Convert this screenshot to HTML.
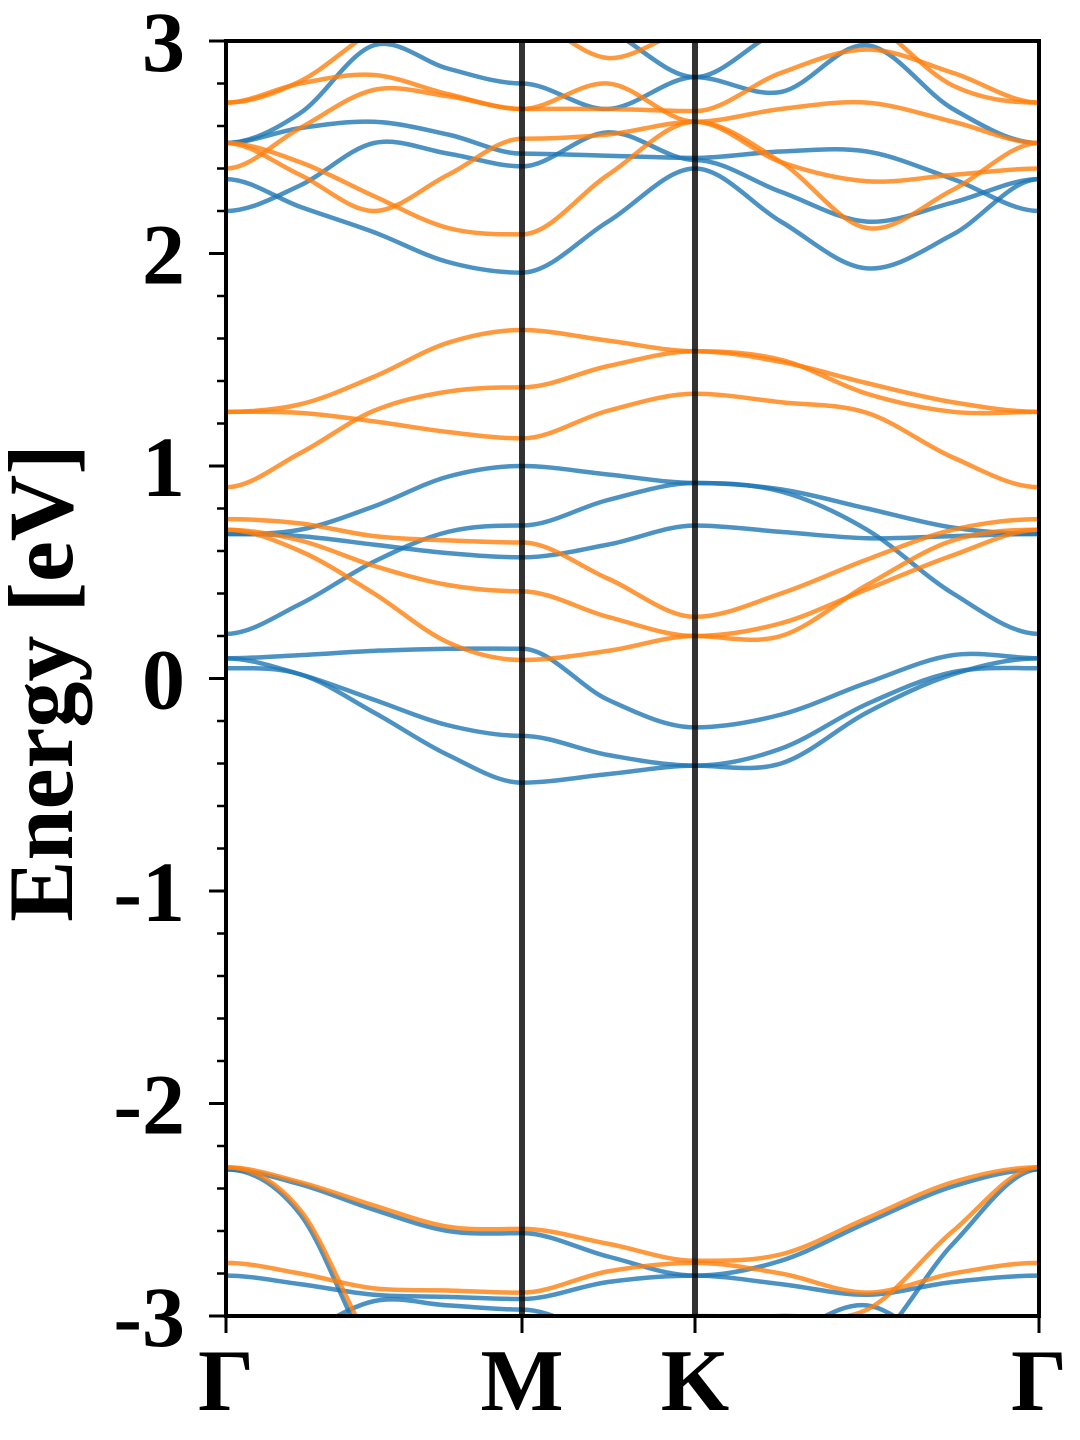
<!DOCTYPE html>
<html><head><meta charset="utf-8"><style>
html,body{margin:0;padding:0;background:#fff;}
svg{display:block;}
text{font-family:"Liberation Serif",serif;font-weight:bold;fill:#000;}
</style></head><body>
<svg id="chart" width="1080" height="1440" viewBox="0 0 1080 1440">
<g id="bands"></g>
<g id="axes"></g>
</svg>
<script>
// k-path sample positions (path units, Γ=0 ... Γ=813)
const kGrid = [0, 74, 148, 222, 296, 382, 469, 555, 641, 727, 813];
const kLabels = ["Γ", "M", "K", "Γ"];
const kLabelPos = [0, 296, 469, 813];
const yTicks = [3, 2, 1, 0, -1, -2, -3];
const yTickLabels = ["3", "2", "1", "0", "-1", "-2", "-3"];
// spin-up bands (blue)
const blueBands = [
  [2.35,2.22,2.10,1.96,1.91,2.15,2.40,2.15,1.93,2.09,2.35],
  [2.20,2.32,2.52,2.47,2.41,2.57,2.44,2.29,2.15,2.24,2.35],
  [2.52,2.59,2.62,2.56,2.47,2.46,2.45,2.48,2.48,2.35,2.20],
  [2.52,2.66,2.98,2.87,2.80,2.68,2.83,2.76,2.98,2.68,2.52],
  [3.30,3.25,3.20,3.15,3.15,3.05,2.83,3.05,3.10,3.20,3.30],
  [0.68,0.70,0.81,0.95,1.00,0.96,0.92,0.89,0.80,0.71,0.68],
  [0.68,0.67,0.63,0.59,0.57,0.63,0.72,0.69,0.66,0.67,0.68],
  [0.21,0.35,0.55,0.69,0.72,0.84,0.92,0.88,0.70,0.40,0.21],
  [0.095,0.11,0.13,0.14,0.14,-0.10,-0.23,-0.17,-0.02,0.11,0.095],
  [0.095,0.02,-0.10,-0.22,-0.27,-0.36,-0.41,-0.33,-0.12,0.03,0.048],
  [0.048,0.02,-0.16,-0.36,-0.49,-0.45,-0.41,-0.40,-0.16,0.02,0.095],
  [-2.31,-2.38,-2.50,-2.60,-2.61,-2.72,-2.81,-2.74,-2.56,-2.39,-2.31],
  [-2.31,-2.52,-3.20,-3.50,-3.60,-3.40,-3.20,-3.10,-3.15,-2.66,-2.31],
  [-2.81,-2.85,-2.90,-2.91,-2.92,-2.84,-2.81,-2.85,-2.90,-2.84,-2.81],
  [-3.30,-3.10,-2.93,-2.95,-2.97,-3.10,-3.20,-3.10,-2.95,-3.20,-3.40]
];
// spin-down bands (orange)
const orangeBands = [
  [2.71,2.81,3.05,3.20,3.10,2.92,3.05,3.20,3.10,2.79,2.71],
  [2.71,2.80,2.84,2.75,2.68,2.68,2.67,2.85,2.96,2.85,2.71],
  [2.40,2.59,2.77,2.74,2.68,2.80,2.62,2.43,2.12,2.30,2.52],
  [2.52,2.37,2.20,2.37,2.54,2.56,2.62,2.68,2.71,2.62,2.52],
  [2.52,2.43,2.27,2.12,2.09,2.37,2.62,2.43,2.34,2.37,2.40],
  [1.255,1.29,1.42,1.58,1.64,1.59,1.54,1.49,1.39,1.30,1.255],
  [1.255,1.25,1.21,1.16,1.13,1.26,1.34,1.30,1.25,1.04,0.90],
  [0.90,1.06,1.26,1.35,1.37,1.47,1.54,1.50,1.34,1.255,1.255],
  [0.75,0.73,0.67,0.65,0.64,0.47,0.29,0.40,0.56,0.70,0.75],
  [0.70,0.65,0.53,0.44,0.41,0.29,0.20,0.26,0.42,0.58,0.70],
  [0.70,0.60,0.40,0.17,0.087,0.13,0.20,0.20,0.44,0.65,0.70],
  [-2.30,-2.37,-2.48,-2.58,-2.59,-2.66,-2.74,-2.71,-2.54,-2.37,-2.30],
  [-2.30,-2.50,-3.15,-3.50,-3.50,-3.30,-3.00,-3.00,-2.97,-2.60,-2.30],
  [-2.75,-2.80,-2.87,-2.88,-2.89,-2.79,-2.75,-2.80,-2.89,-2.80,-2.75]
];
const X0=226, X1=1039, Y0=41, Y1=1316, EMAX=3, EMIN=-3, KMAX=813;
const NS="http://www.w3.org/2000/svg";
function xScale(k){return X0+(k/KMAX)*(X1-X0);}
function yScale(e){return Y0+(EMAX-e)/(EMAX-EMIN)*(Y1-Y0);}
const symIdx=[0,4,6,10];
function pathFor(vals){
  const pts=kGrid.map((k,i)=>[xScale(k),yScale(vals[i])]);
  const n=pts.length, t=[];
  for(let i=0;i<n;i++){
    if(symIdx.includes(i)){t.push(0);continue;}
    t.push((pts[i+1][1]-pts[i-1][1])/(pts[i+1][0]-pts[i-1][0]));
  }
  let d="M"+pts[0][0]+","+pts[0][1];
  for(let i=0;i<n-1;i++){
    const dx=pts[i+1][0]-pts[i][0];
    d+=" C"+(pts[i][0]+dx/3)+","+(pts[i][1]+t[i]*dx/3)+" "+(pts[i+1][0]-dx/3)+","+(pts[i+1][1]-t[i+1]*dx/3)+" "+pts[i+1][0]+","+pts[i+1][1];
  }
  return d;
}
const svg=document.getElementById("chart");
const defs=document.createElementNS(NS,"defs");
defs.innerHTML='<clipPath id="clip"><rect x="226" y="41" width="813" height="1275"/></clipPath>';
svg.insertBefore(defs,svg.firstChild);
const bandsG=document.getElementById("bands");
bandsG.setAttribute("clip-path","url(#clip)");
blueBands.forEach((b,i)=>{
  const p=document.createElementNS(NS,"path");
  p.setAttribute("d",pathFor(b));
  p.setAttribute("fill","none");p.setAttribute("stroke","#1f77b4");p.setAttribute("stroke-opacity","0.8");p.setAttribute("stroke-width","4.5");
  
  
  bandsG.appendChild(p);
});
orangeBands.forEach((b,i)=>{
  const p=document.createElementNS(NS,"path");
  p.setAttribute("d",pathFor(b));
  p.setAttribute("fill","none");p.setAttribute("stroke","#ff7f0e");p.setAttribute("stroke-opacity","0.8");p.setAttribute("stroke-width","4.5");
  
  
  bandsG.appendChild(p);
});
const ax=document.getElementById("axes");
function line(x1,y1,x2,y2,w,c,name){
  const l=document.createElementNS(NS,"line");
  l.setAttribute("x1",x1);l.setAttribute("y1",y1);l.setAttribute("x2",x2);l.setAttribute("y2",y2);
  l.setAttribute("stroke",c);l.setAttribute("stroke-width",w);
  
  
  ax.appendChild(l);
}
[1,2].forEach(i=>{
  line(xScale(kLabelPos[i]),Y0,xScale(kLabelPos[i]),Y1,6,"rgba(0,0,0,0.8)","kpoint-line");
});
const fr=document.createElementNS(NS,"rect");
fr.setAttribute("x",X0);fr.setAttribute("y",Y0);fr.setAttribute("width",X1-X0);fr.setAttribute("height",Y1-Y0);
fr.setAttribute("fill","none");fr.setAttribute("stroke","#000");fr.setAttribute("stroke-width","4");


ax.appendChild(fr);
for(let v=-30;v<=30;v+=2){
  const e=v/10, y=yScale(e);
  if(v%10===0) line(X0-17,y,X0,y,3,"#000","y-major-tick");
  else line(X0-9,y,X0,y,2.5,"#000","y-minor-tick");
}
yTicks.forEach((v,i)=>{
  const t=document.createElementNS(NS,"text");
  t.setAttribute("x",185);t.setAttribute("y",yScale(v)+30);t.setAttribute("text-anchor","end");t.setAttribute("font-size","86");
  t.textContent=yTickLabels[i];
  
  
  ax.appendChild(t);
});
kLabelPos.forEach((k,i)=>{
  line(xScale(k),Y1,xScale(k),Y1+17,3,"#000","x-tick");
  const t=document.createElementNS(NS,"text");
  t.setAttribute("x",xScale(k));t.setAttribute("y",1410);t.setAttribute("text-anchor","middle");t.setAttribute("font-size","88");
  t.textContent=kLabels[i];
  
  
  ax.appendChild(t);
});
const yt=document.createElementNS(NS,"text");
yt.setAttribute("transform","translate(72,683) rotate(-90)");
yt.setAttribute("text-anchor","middle");yt.setAttribute("font-size","92");
yt.textContent="Energy [eV]";


ax.appendChild(yt);
</script>
</body></html>
